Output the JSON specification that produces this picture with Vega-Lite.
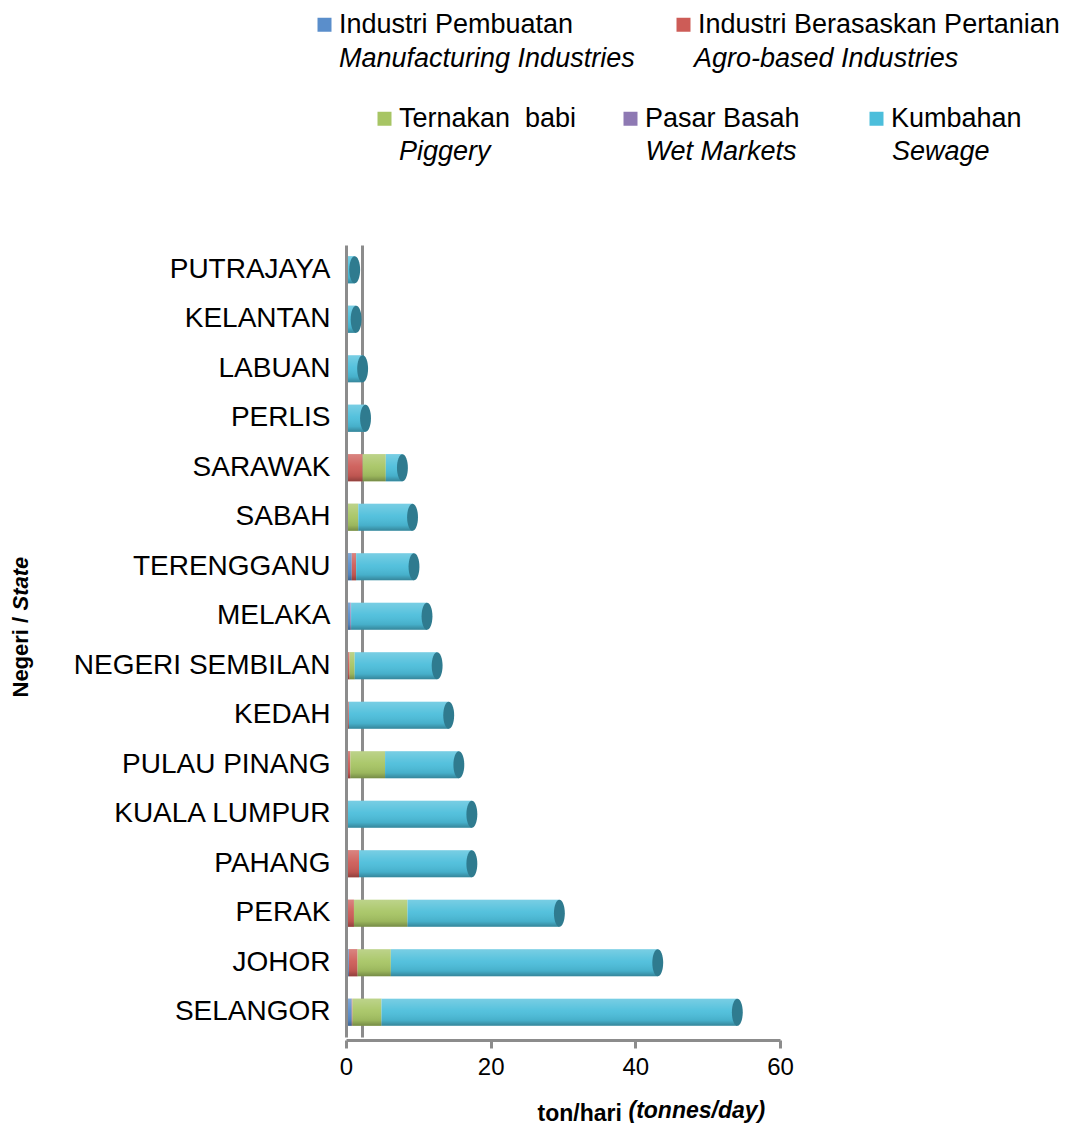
{
  "$schema": "https://vega.github.io/schema/vega-lite/v6.json",
  "autosize": "none",
  "width": 434,
  "height": 792,
  "padding": {"left": 346, "top": 245, "right": 294, "bottom": 87},
  "background": "white",
  "config": {"view": {"stroke": null}, "font": "Liberation Sans"},
  "data": {"values": [
    {"state": "PUTRAJAYA", "source": "Kumbahan", "value": 1.2},
    {"state": "KELANTAN", "source": "Industri Berasaskan Pertanian", "value": 0.1},
    {"state": "KELANTAN", "source": "Kumbahan", "value": 1.3},
    {"state": "LABUAN", "source": "Industri Pembuatan", "value": 0.2},
    {"state": "LABUAN", "source": "Kumbahan", "value": 2.1},
    {"state": "PERLIS", "source": "Kumbahan", "value": 2.7},
    {"state": "SARAWAK", "source": "Industri Berasaskan Pertanian", "value": 2.3},
    {"state": "SARAWAK", "source": "Ternakan babi", "value": 3.2},
    {"state": "SARAWAK", "source": "Kumbahan", "value": 2.3},
    {"state": "SABAH", "source": "Industri Pembuatan", "value": 0.2},
    {"state": "SABAH", "source": "Ternakan babi", "value": 1.5},
    {"state": "SABAH", "source": "Kumbahan", "value": 7.5},
    {"state": "TERENGGANU", "source": "Industri Pembuatan", "value": 0.8},
    {"state": "TERENGGANU", "source": "Industri Berasaskan Pertanian", "value": 0.6},
    {"state": "TERENGGANU", "source": "Kumbahan", "value": 8.0},
    {"state": "MELAKA", "source": "Industri Pembuatan", "value": 0.6},
    {"state": "MELAKA", "source": "Pasar Basah", "value": 0.1},
    {"state": "MELAKA", "source": "Kumbahan", "value": 10.5},
    {"state": "NEGERI SEMBILAN", "source": "Industri Pembuatan", "value": 0.1},
    {"state": "NEGERI SEMBILAN", "source": "Industri Berasaskan Pertanian", "value": 0.4},
    {"state": "NEGERI SEMBILAN", "source": "Ternakan babi", "value": 0.7},
    {"state": "NEGERI SEMBILAN", "source": "Kumbahan", "value": 11.4},
    {"state": "KEDAH", "source": "Industri Pembuatan", "value": 0.2},
    {"state": "KEDAH", "source": "Industri Berasaskan Pertanian", "value": 0.2},
    {"state": "KEDAH", "source": "Kumbahan", "value": 13.8},
    {"state": "PULAU PINANG", "source": "Industri Pembuatan", "value": 0.1},
    {"state": "PULAU PINANG", "source": "Industri Berasaskan Pertanian", "value": 0.5},
    {"state": "PULAU PINANG", "source": "Ternakan babi", "value": 4.8},
    {"state": "PULAU PINANG", "source": "Kumbahan", "value": 10.2},
    {"state": "KUALA LUMPUR", "source": "Kumbahan", "value": 17.4},
    {"state": "PAHANG", "source": "Industri Berasaskan Pertanian", "value": 1.8},
    {"state": "PAHANG", "source": "Kumbahan", "value": 15.6},
    {"state": "PERAK", "source": "Industri Berasaskan Pertanian", "value": 1.1},
    {"state": "PERAK", "source": "Ternakan babi", "value": 7.4},
    {"state": "PERAK", "source": "Kumbahan", "value": 21.0},
    {"state": "JOHOR", "source": "Industri Pembuatan", "value": 0.4},
    {"state": "JOHOR", "source": "Industri Berasaskan Pertanian", "value": 1.2},
    {"state": "JOHOR", "source": "Ternakan babi", "value": 4.6},
    {"state": "JOHOR", "source": "Kumbahan", "value": 36.9},
    {"state": "SELANGOR", "source": "Industri Pembuatan", "value": 0.8},
    {"state": "SELANGOR", "source": "Industri Berasaskan Pertanian", "value": 0.1},
    {"state": "SELANGOR", "source": "Ternakan babi", "value": 4.0},
    {"state": "SELANGOR", "source": "Kumbahan", "value": 49.2}
  ]},
  "transform": [
    {"calculate": "indexof(['Industri Pembuatan','Industri Berasaskan Pertanian','Ternakan babi','Pasar Basah','Kumbahan'], datum.source)", "as": "ord"},
    {"stack": "value", "groupby": ["state"], "sort": [{"field": "ord", "order": "ascending"}], "as": ["x0", "x1"], "offset": "zero"}
  ],
  "layer": [
    {
      "transform": [{"filter": "datum.ord <= 1"}],
      "mark": {"type": "bar", "opacity": 0},
      "encoding": {
        "y": {"field": "state", "type": "nominal", "axis": null,
          "scale": {"domain": ["PUTRAJAYA","KELANTAN","LABUAN","PERLIS","SARAWAK","SABAH","TERENGGANU","MELAKA","NEGERI SEMBILAN","KEDAH","PULAU PINANG","KUALA LUMPUR","PAHANG","PERAK","JOHOR","SELANGOR"], "paddingInner": 0.45, "paddingOuter": 0.225}},
        "x": {"field": "x0", "type": "quantitative", "scale": {"domain": [0, 60], "nice": false},
          "axis": {"orient": "bottom", "values": [2.2], "grid": true, "zindex": 0, "gridColor": "#8C8C8C", "gridWidth": 3, "gridOpacity": 1, "labels": false, "ticks": false, "domain": false, "title": null}},
        "x2": {"field": "x1"},
        "color": {"field": "source", "type": "nominal",
          "scale": {"domain": ["Industri Pembuatan", "Industri Berasaskan Pertanian"], "range": ["#5A8ECB", "#CD5C57"]},
          "legend": {"orient": "none", "legendX": -35, "legendY": -200, "direction": "horizontal", "title": null, "symbolType": "square", "symbolSize": 196, "symbolOpacity": 0, "symbolStrokeWidth": 0, "labelFontSize": 27, "labelFontStyle": "italic", "labelColor": "black", "labelLimit": 600, "labelOffset": 1, "columnPadding": 31, "padding": 0, "gridAlign": "each",
            "labelExpr": "datum.label == 'Industri Pembuatan' ? 'Manufacturing Industries' : 'Agro-based Industries'"}}
      }
    },
    {
      "transform": [{"filter": "datum.ord <= 1"}],
      "mark": {"type": "bar", "zindex": 1},
      "encoding": {
        "y": {"field": "state", "type": "nominal",
          "scale": {"domain": ["PUTRAJAYA","KELANTAN","LABUAN","PERLIS","SARAWAK","SABAH","TERENGGANU","MELAKA","NEGERI SEMBILAN","KEDAH","PULAU PINANG","KUALA LUMPUR","PAHANG","PERAK","JOHOR","SELANGOR"], "paddingInner": 0.45, "paddingOuter": 0.225},
          "axis": {"orient": "left", "zindex": 2, "title": "Negeri /", "titleFontSize": 22, "titleFontWeight": "bold", "titleColor": "black", "titleAngle": 270, "titleAlign": "left", "titleBaseline": "alphabetic", "titleX": -319, "titleY": 452,
            "labelFontSize": 28, "labelColor": "black", "labelPadding": 16, "ticks": false, "domainColor": "#8C8C8C", "domainWidth": 3, "labelLimit": 400}},
        "x": {"field": "x0", "type": "quantitative", "scale": {"domain": [0, 60], "nice": false},
          "axis": {"orient": "bottom", "zindex": 2, "values": [0, 20, 40, 60], "grid": false, "offset": 3, "labelFlush": false, "labelFontSize": 24, "labelColor": "black", "labelPadding": 7, "tickSize": 8, "tickColor": "#8C8C8C", "tickWidth": 3, "domainColor": "#8C8C8C", "domainWidth": 3,
            "title": "ton/hari", "titleFontSize": 23, "titleFontWeight": "bold", "titleColor": "black", "titleAlign": "left", "titleBaseline": "alphabetic", "titleX": 191, "titleY": 80}},
        "x2": {"field": "x1"},
        "color": {"field": "source", "type": "nominal",
          "scale": {"domain": ["Industri Pembuatan", "Industri Berasaskan Pertanian"], "range": ["#5A8ECB", "#CD5C57"]},
          "legend": {"orient": "none", "legendX": -35, "legendY": -234, "direction": "horizontal", "title": null, "symbolType": "square", "symbolSize": 196, "symbolStrokeWidth": 0, "labelFontSize": 27, "labelColor": "black", "labelLimit": 600, "labelOffset": 1, "columnPadding": 96, "padding": 0, "gridAlign": "each"}}
      }
    },
    {
      "transform": [{"filter": "datum.ord >= 2"}],
      "mark": {"type": "bar", "zindex": 1},
      "encoding": {
        "y": {"field": "state", "type": "nominal",
          "scale": {"domain": ["PUTRAJAYA","KELANTAN","LABUAN","PERLIS","SARAWAK","SABAH","TERENGGANU","MELAKA","NEGERI SEMBILAN","KEDAH","PULAU PINANG","KUALA LUMPUR","PAHANG","PERAK","JOHOR","SELANGOR"], "paddingInner": 0.45, "paddingOuter": 0.225},
          "axis": {"orient": "left", "title": "State", "titleFontSize": 22, "titleFontWeight": "bold", "titleFontStyle": "italic", "titleColor": "black", "titleAngle": 270, "titleAlign": "left", "titleBaseline": "alphabetic", "titleX": -319, "titleY": 365,
            "labels": false, "ticks": false, "domain": false}},
        "x": {"field": "x0", "type": "quantitative", "scale": {"domain": [0, 60], "nice": false},
          "axis": {"orient": "bottom", "labels": false, "ticks": false, "domain": false, "grid": false,
            "title": "(tonnes/day)", "titleFontSize": 23, "titleFontWeight": "bold", "titleFontStyle": "italic", "titleColor": "black", "titleAlign": "left", "titleBaseline": "alphabetic", "titleX": 282, "titleY": 80}},
        "x2": {"field": "x1"},
        "color": {"field": "source", "type": "nominal",
          "scale": {"domain": ["Ternakan babi", "Pasar Basah", "Kumbahan"], "range": ["#A7C564", "#8E79B3", "#4CBEDB"]},
          "legend": {"orient": "none", "legendX": 25, "legendY": -140, "direction": "horizontal", "columns": 3, "title": null, "symbolType": "square", "symbolSize": 196, "symbolStrokeWidth": 0, "labelFontSize": 27, "labelColor": "black", "labelLimit": 600, "labelOffset": 1, "columnPadding": 40, "padding": 0, "gridAlign": "all",
            "labelExpr": "datum.label == 'Ternakan babi' ? 'Ternakan\u00a0 babi' : datum.label"}}
      }
    },
    {
      "transform": [{"filter": "datum.ord >= 2"}],
      "mark": {"type": "bar", "opacity": 0},
      "encoding": {
        "y": {"field": "state", "type": "nominal", "axis": null,
          "scale": {"domain": ["PUTRAJAYA","KELANTAN","LABUAN","PERLIS","SARAWAK","SABAH","TERENGGANU","MELAKA","NEGERI SEMBILAN","KEDAH","PULAU PINANG","KUALA LUMPUR","PAHANG","PERAK","JOHOR","SELANGOR"], "paddingInner": 0.45, "paddingOuter": 0.225}},
        "x": {"field": "x0", "type": "quantitative", "axis": null, "scale": {"domain": [0, 60], "nice": false}},
        "x2": {"field": "x1"},
        "color": {"field": "source", "type": "nominal",
          "scale": {"domain": ["Ternakan babi", "Pasar Basah", "Kumbahan"], "range": ["#A7C564", "#8E79B3", "#4CBEDB"]},
          "legend": {"orient": "none", "legendX": 25, "legendY": -107, "direction": "horizontal", "columns": 3, "title": null, "symbolType": "square", "symbolSize": 196, "symbolOpacity": 0, "symbolStrokeWidth": 0, "labelFontSize": 27, "labelFontStyle": "italic", "labelColor": "black", "labelLimit": 600, "labelOffset": 1, "columnPadding": 66.5, "padding": 0, "gridAlign": "all",
            "labelExpr": "datum.label == 'Ternakan babi' ? 'Piggery' : datum.label == 'Pasar Basah' ? 'Wet Markets' : 'Sewage'"}}
      }
    },
    {
      "transform": [{"aggregate": [{"op": "sum", "field": "value", "as": "total"}], "groupby": ["state"]}],
      "mark": {"type": "bar", "zindex": 1, "color": {"gradient": "linear", "x1": 0, "y1": 0, "x2": 0, "y2": 1, "stops": [
        {"offset": 0, "color": "rgba(255,255,255,0.25)"},
        {"offset": 0.45, "color": "rgba(255,255,255,0.05)"},
        {"offset": 0.8, "color": "rgba(0,0,0,0.08)"},
        {"offset": 1, "color": "rgba(0,0,0,0.3)"}]}},
      "encoding": {
        "y": {"field": "state", "type": "nominal", "axis": null,
          "scale": {"domain": ["PUTRAJAYA","KELANTAN","LABUAN","PERLIS","SARAWAK","SABAH","TERENGGANU","MELAKA","NEGERI SEMBILAN","KEDAH","PULAU PINANG","KUALA LUMPUR","PAHANG","PERAK","JOHOR","SELANGOR"], "paddingInner": 0.45, "paddingOuter": 0.225}},
        "x": {"field": "total", "type": "quantitative", "axis": null, "scale": {"domain": [0, 60], "nice": false}}
      }
    },
    {
      "transform": [{"aggregate": [{"op": "sum", "field": "value", "as": "total"}], "groupby": ["state"]}],
      "mark": {"type": "point", "zindex": 1, "filled": true, "opacity": 1, "color": "#2F7B8F", "size": 740, "strokeWidth": 0,
        "shape": "M0,-1A0.4,1,0,1,1,0,1A0.4,1,0,1,1,0,-1Z"},
      "encoding": {
        "y": {"field": "state", "type": "nominal", "axis": null,
          "scale": {"domain": ["PUTRAJAYA","KELANTAN","LABUAN","PERLIS","SARAWAK","SABAH","TERENGGANU","MELAKA","NEGERI SEMBILAN","KEDAH","PULAU PINANG","KUALA LUMPUR","PAHANG","PERAK","JOHOR","SELANGOR"], "paddingInner": 0.45, "paddingOuter": 0.225}},
        "x": {"field": "total", "type": "quantitative", "axis": null, "scale": {"domain": [0, 60], "nice": false}}
      }
    }
  ],
  "resolve": {
    "scale": {"color": "independent"},
    "axis": {"x": "independent", "y": "independent"},
    "legend": {"color": "independent"}
  }
}
